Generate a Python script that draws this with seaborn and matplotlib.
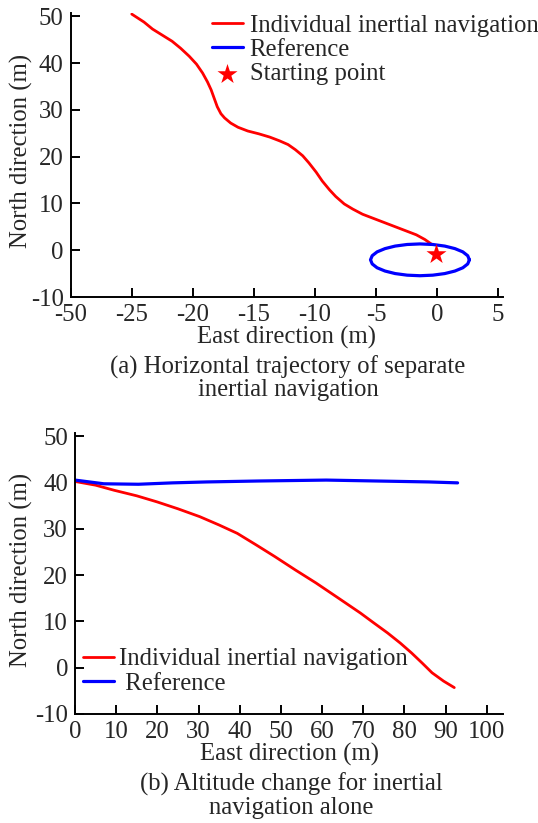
import numpy as np
import pandas as pd
import seaborn as sns
import matplotlib.pyplot as plt

# ---- (a) horizontal trajectory ----
traj_east = [-25.0, -24.0, -23.3, -22.5, -21.7, -21.0, -20.3, -19.7, -19.2, -18.8,
             -18.5, -18.25, -18.0, -17.7, -17.4, -16.9, -16.3, -15.5, -14.6, -13.7,
             -12.9, -12.2, -11.6, -11.0, -10.5, -9.9, -9.4, -8.8, -8.3, -7.6,
             -6.9, -6.1, -5.3, -4.3, -3.4, -2.5, -1.7, -1.0, -0.4]
traj_north = [50.5, 48.8, 47.3, 46.0, 44.7, 43.2, 41.5, 39.8, 37.9, 36.0,
              34.3, 32.5, 30.7, 29.2, 28.3, 27.2, 26.3, 25.5, 24.9, 24.2,
              23.4, 22.6, 21.5, 20.2, 18.7, 16.7, 14.8, 12.9, 11.5, 9.9,
              8.8, 7.7, 6.9, 5.9, 5.0, 4.1, 3.3, 2.3, 1.2]

ref_east = [2.65, 2.51, 2.11, 1.46, 0.63, -0.35, -1.40, -2.45, -3.43, -4.26, -4.91, -5.31,
            -5.45, -5.31, -4.91, -4.26, -3.43, -2.45, -1.40, -0.35, 0.63, 1.46, 2.11, 2.51, 2.65]
ref_north = [-2.05, -1.17, -0.35, 0.35, 0.89, 1.23, 1.35, 1.23, 0.89, 0.35, -0.35, -1.17,
             -2.05, -2.93, -3.75, -4.45, -4.99, -5.33, -5.45, -5.33, -4.99, -4.45, -3.75, -2.93, -2.05]

start_east = [-0.1]
start_north = [-0.7]

xticks_a = [-30, -25, -20, -15, -10, -5, 0, 5]
xticklabels_a = ['-50', '-25', '-20', '-15', '-10', '-5', '0', '5']
yticks = [-10, 0, 10, 20, 30, 40, 50]

# ---- (b) altitude change ----
alt_east = [0, 5, 9.5, 15, 19.9, 25, 30.3, 35, 39.4, 44, 48.5, 53.5, 58.5, 64, 69.3,
            72.5, 75.9, 79, 81.7, 84.3, 86.7, 89.5, 92.1]
alt_val = [40.2, 39.4, 38.3, 37.1, 35.8, 34.3, 32.6, 30.8, 29.0, 26.5, 24.0, 21.1, 18.3,
           15.0, 11.8, 9.7, 7.5, 5.3, 3.2, 1.0, -1.1, -2.9, -4.3]
alt_ref_east = [0, 7, 15.4, 23.7, 32, 44.4, 61, 73.4, 85.9, 92.9]
alt_ref_val = [40.5, 39.7, 39.6, 39.9, 40.1, 40.3, 40.5, 40.3, 40.1, 39.9]
xticks_b = [0, 10, 20, 30, 40, 50, 60, 70, 80, 90, 100]

sns.set_style("ticks")
plt.rcParams['font.family'] = ['Liberation Serif', 'DejaVu Serif']
plt.rcParams['axes.unicode_minus'] = False
FS = 17.8

W, H = 538, 823
fig = plt.figure(figsize=(W / 100, H / 100), dpi=100)
ax1 = fig.add_axes([70.7 / W, 1 - 297 / H, (503 - 70.7) / W, (297 - 12.7) / H])
ax2 = fig.add_axes([75 / W, 1 - 714 / H, (503.3 - 75) / W, (714 - 433.3) / H])

RED, BLUE = '#ff0000', '#0000ff'

# top panel
sns.lineplot(x=traj_east, y=traj_north, sort=False, estimator=None, color=RED,
             linewidth=2.0, label='Individual inertial navigation', ax=ax1)
sns.lineplot(x=ref_east, y=ref_north, sort=False, estimator=None, color=BLUE,
             linewidth=2.3, label='Reference', ax=ax1)
sns.scatterplot(x=start_east, y=start_north, marker='*', s=230, color=RED,
                edgecolor=RED, linewidth=0, label='Starting point', ax=ax1, zorder=5)
ax1.set_xlim(-30, 5.4)
ax1.set_ylim(-10, 50.8)
ax1.set_xticks(xticks_a)
ax1.set_xticklabels(xticklabels_a)
ax1.set_yticks(yticks)
ax1.set_xlabel('East direction (m)', fontsize=FS, labelpad=0)
ax1.set_ylabel('North direction (m)', fontsize=FS)
ax1.yaxis.set_label_coords(-0.088, 0.515)
ax1.legend(loc='upper left', bbox_to_anchor=(211.7 / W, 1 - 14.5 / H),
           bbox_transform=fig.transFigure, frameon=False, fontsize=FS,
           borderpad=0, borderaxespad=0, handlelength=1.25, handletextpad=0.28,
           labelspacing=0.08)

# bottom panel
sns.lineplot(x=alt_east, y=alt_val, sort=False, estimator=None, color=RED,
             linewidth=2.0, label='Individual inertial navigation', ax=ax2)
sns.lineplot(x=alt_ref_east, y=alt_ref_val, sort=False, estimator=None, color=BLUE,
             linewidth=2.3, label=' Reference', ax=ax2)
ax2.set_xlim(0, 104)
ax2.set_ylim(-10, 50.6)
ax2.set_xticks(xticks_b)
ax2.set_yticks(yticks)
ax2.set_xlabel('East direction (m)', fontsize=FS, labelpad=0)
ax2.set_ylabel('North direction (m)', fontsize=FS)
ax2.yaxis.set_label_coords(-0.099, 0.515)
ax2.legend(loc='upper left', bbox_to_anchor=(82.7 / W, 1 - 648 / H),
           bbox_transform=fig.transFigure, frameon=False, fontsize=FS,
           borderpad=0, borderaxespad=0, handlelength=1.25, handletextpad=0.2,
           labelspacing=0.08)

for ax in (ax1, ax2):
    sns.despine(ax=ax)
    for s in ('left', 'bottom'):
        ax.spines[s].set_linewidth(1.4)
        ax.spines[s].set_color('black')
    ax.tick_params(direction='in', length=6.5, width=1.4, labelsize=FS, color='black')
    ax.tick_params(axis='x', pad=5)
    ax.tick_params(axis='y', pad=5)

fig.text(288 / W, 1 - 378 / H, '(a) Horizontal trajectory of separate\ninertial navigation',
         ha='center', va='center', fontsize=FS, linespacing=1.0)
fig.text(291 / W, 1 - 796 / H, '(b) Altitude change for inertial\nnavigation alone',
         ha='center', va='center', fontsize=FS, linespacing=1.08)

fig.savefig('out.png', dpi=100)
